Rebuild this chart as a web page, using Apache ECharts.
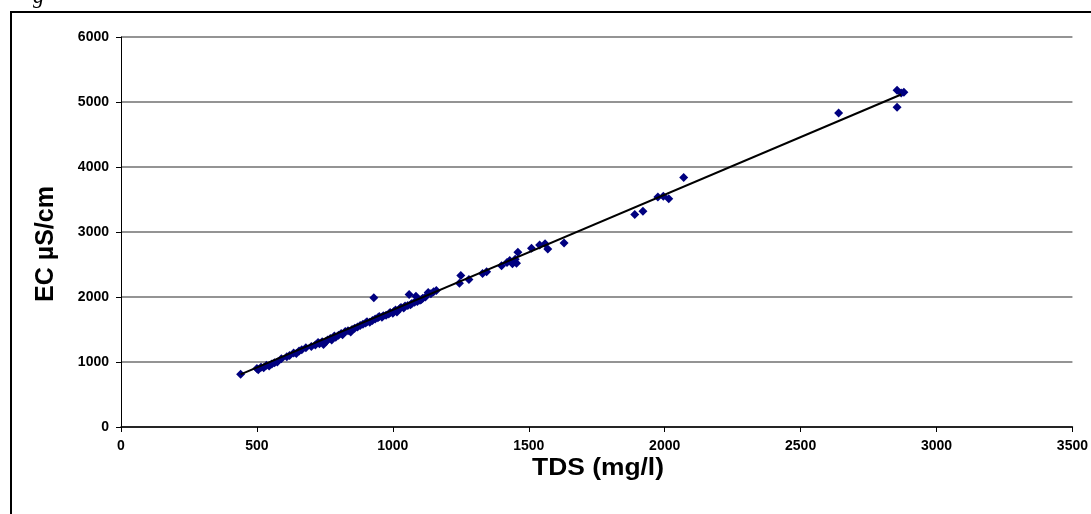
<!DOCTYPE html>
<html>
<head>
<meta charset="utf-8">
<script src="https://cdn.jsdelivr.net/npm/echarts@6/dist/echarts.min.js"></script>
<style>html,body{margin:0;padding:0;background:#fff}#c{width:1091px;height:514px}</style>
</head>
<body>
<div id="c"></div>
<script>
// TDS (mg/l)
const tds = [440,500,505,515,525,535,545,555,565,575,590,610,620,635,645,655,665,680,700,715,725,730,740,745,755,760,770,775,785,790,800,810,815,825,835,845,850,860,870,880,890,900,905,915,925,930,935,945,950,960,965,975,985,990,1000,1005,1010,1015,1025,1030,1040,1045,1055,1060,1065,1070,1080,1085,1090,1100,1105,1110,1120,1130,1140,1150,1160,1245,1250,1280,1330,1345,1400,1420,1430,1440,1450,1455,1460,1510,1540,1560,1570,1630,1890,1920,1975,1995,2015,2070,2640,2855,2870,2880,2855];
// EC (µS/cm)
const ec = [810,900,880,920,910,950,940,970,990,1000,1050,1080,1100,1140,1130,1170,1190,1220,1240,1260,1300,1280,1310,1270,1320,1340,1360,1340,1400,1380,1410,1440,1420,1470,1480,1460,1500,1520,1540,1560,1580,1600,1620,1610,1640,1990,1660,1680,1700,1690,1710,1720,1740,1760,1750,1780,1800,1770,1820,1840,1830,1860,1870,2040,1880,1900,1920,2010,1930,1950,1960,1980,2000,2070,2050,2080,2100,2210,2330,2270,2360,2390,2480,2530,2560,2510,2580,2520,2690,2750,2800,2820,2740,2830,3270,3320,3540,3550,3510,3840,4830,5180,5140,5150,4920];
// trend line endpoints
const trendX = [440, 2870];
const trendY = [810, 5115];
const xTicks = [0,500,1000,1500,2000,2500,3000,3500];
const yTicks = [0,1000,2000,3000,4000,5000,6000];

const pts = tds.map((v,i)=>[v, ec[i]]);
const trend = trendX.map((v,i)=>[v, trendY[i]]);
const font = '"Liberation Sans", Arial, sans-serif';

const chart = echarts.init(document.getElementById('c'), null, {renderer:'canvas'});
chart.setOption({
  animation:false,
  backgroundColor:'#fff',
  grid:{left:121, right:14, top:37, bottom:87, containLabel:false},
  xAxis:{
    type:'value', min:xTicks[0], max:xTicks[xTicks.length-1], interval:500,
    axisLine:{lineStyle:{color:'#000', width:1.5}},
    axisTick:{show:true, length:5, lineStyle:{color:'#000'}},
    axisLabel:{color:'#000', fontFamily:font, fontWeight:'bold', fontSize:14, margin:12, formatter:v=>String(v)},
    splitLine:{show:false}
  },
  yAxis:{
    type:'value', min:yTicks[0], max:yTicks[yTicks.length-1], interval:1000,
    axisLine:{show:true, lineStyle:{color:'#000', width:1}},
    axisTick:{show:true, length:5, lineStyle:{color:'#000'}},
    axisLabel:{color:'#000', fontFamily:font, fontWeight:'bold', fontSize:14, margin:12, formatter:v=>String(v)},
    splitLine:{show:true, lineStyle:{color:'#707070', width:1.5}}
  },
  series:[
    {type:'scatter', data:pts, symbol:'diamond', symbolSize:9, itemStyle:{color:'#000080', opacity:1}, z:3},
    {type:'line', data:trend, symbol:'none', lineStyle:{color:'#000', width:2}, z:4}
  ],
  graphic:[
    {type:'rect', shape:{x:11, y:12, width:1200, height:600}, style:{fill:'none', stroke:'#000', lineWidth:2}, z:10},
    {type:'text', x:33, y:-14, style:{text:'g', font:'italic 22px "Liberation Serif", serif', fill:'#000'}, z:10},
    {type:'text', x:598, y:468, scaleX:1.1, style:{text:'TDS (mg/l)', font:'bold 24px '+font, fill:'#000', textAlign:'center', textVerticalAlign:'middle'}, z:10},
    {type:'text', x:46, y:244, rotation:Math.PI/2, style:{text:'EC µS/cm', font:'bold 25px '+font, fill:'#000', textAlign:'center', textVerticalAlign:'middle'}, z:10}
  ]
});
</script>
</body>
</html>
